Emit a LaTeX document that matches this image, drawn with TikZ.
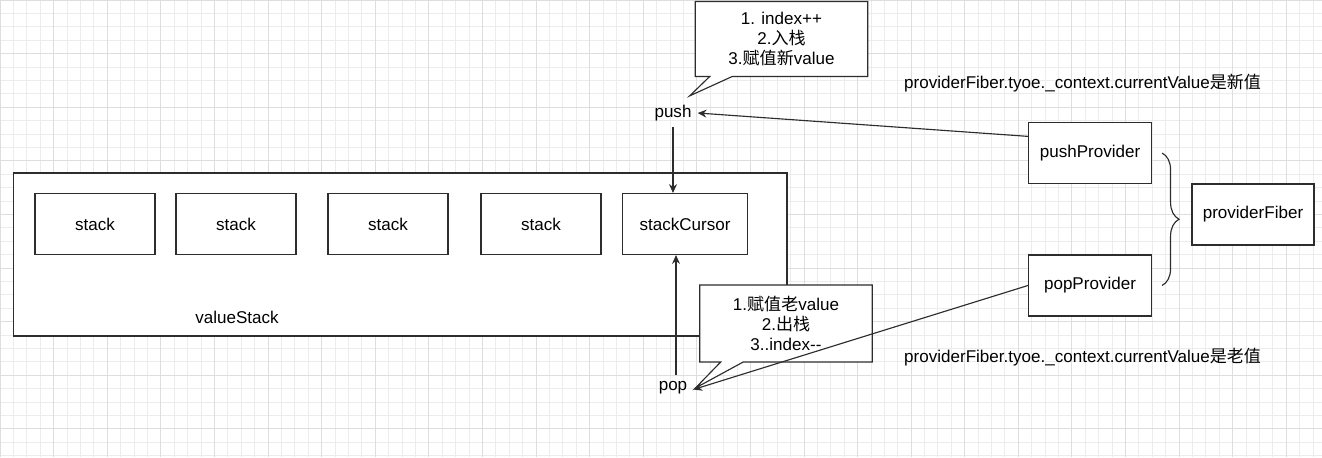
\documentclass[tikz,border=0pt]{standalone}
\usepackage{fontspec}
\setmainfont{Liberation Sans}
\newfontfamily\cjk{Noto Sans CJK SC}
\usetikzlibrary{positioning, arrows.meta, shapes.callouts, decorations.pathreplacing}
\definecolor{dline}{RGB}{45,45,45}
\definecolor{dgrid}{RGB}{236,236,236}
\definecolor{dgridmaj}{RGB}{222,222,222}

\begin{document}
\begin{tikzpicture}[x=0.02cm, y=-0.02cm, font=\fontsize{9.7}{11.4}\selectfont,
    box/.style={draw=dline, line width=0.65pt, fill=white, minimum width=2.4cm, minimum height=1.22cm},
    note/.style={rectangle callout, draw=dline, line width=0.65pt, fill=white, align=center,
                 minimum width=3.45cm, minimum height=1.5cm, callout pointer width=0.45cm},
    arr/.style={draw=dline, line width=0.65pt, -{Stealth[length=5pt, width=4.5pt]}}]
        \useasboundingbox (0,0) rectangle (1322,457);

        % background grid
        \draw[dgrid, line width=0.4pt, step=0.268cm] (0,0) grid (1322,457);
        \draw[dgridmaj, line width=0.4pt, step=1.072cm] (0,0) grid (1322,457);

        % value stack
        \node[draw=dline, line width=0.65pt, fill=white, minimum width=15.48cm, minimum height=3.26cm] (valueStack) at (400,254.5) {};
        \node (vsLabel) at (237,317) {valueStack};
        \node[box] (s1) at (95,224) {stack};
        \node[box] (s2) at (236,224) {stack};
        \node[box] (s3) at (388,224) {stack};
        \node[box] (s4) at (541,224) {stack};
        \node[box, minimum width=2.5cm] (cur) at (685,224) {stackCursor};

        % push / pop
        \node (push) at (673,113) {push};
        \node (pop) at (673,388) {pop};
        \draw[arr] (push.south) -- (push.south |- cur.north);
        \draw[arr] ([xshift=0.06cm]pop.north) -- ([xshift=0.06cm]pop.north |- cur.south);

        % providers
        \node[box, minimum width=2.46cm] (pushP) at (1090,153) {pushProvider};
        \node[box, minimum width=2.46cm] (popP) at (1090,285.5) {popProvider};
        \node[box, minimum width=2.44cm] (fiber) at (1253,214.5) {providerFiber};
        \draw[draw=dline, line width=0.65pt, decorate, decoration={brace, amplitude=0.34cm}]
            ([xshift=0.2cm]pushP.east) -- ([xshift=0.2cm]popP.east);

        \node[anchor=west] (newVal) at (898,83) {providerFiber.tyoe.\_context.currentValue{\cjk 是新值}};
        \node[anchor=west] (oldVal) at (898,357) {providerFiber.tyoe.\_context.currentValue{\cjk 是老值}};

        % callouts
        \node[note, callout absolute pointer={([xshift=-0.16cm, yshift=0.06cm]push.north east)}] (pushNote) at (781.5,39)
            {1. index++\\2.{\cjk 入栈}\\3.{\cjk 赋值新}value};
        \node[note, minimum height=1.54cm, callout absolute pointer={([xshift=0.04cm]pop.east)}] (popNote) at (786,323.5)
            {1.{\cjk 赋值老}value\\2.{\cjk 出栈}\\3..index-{}-};

        \draw[arr] (pushP.165) -- (push.east);
        \draw[arr] (popP.west) -- ([yshift=-0.03cm]pop.east);
\end{tikzpicture}
\end{document}
